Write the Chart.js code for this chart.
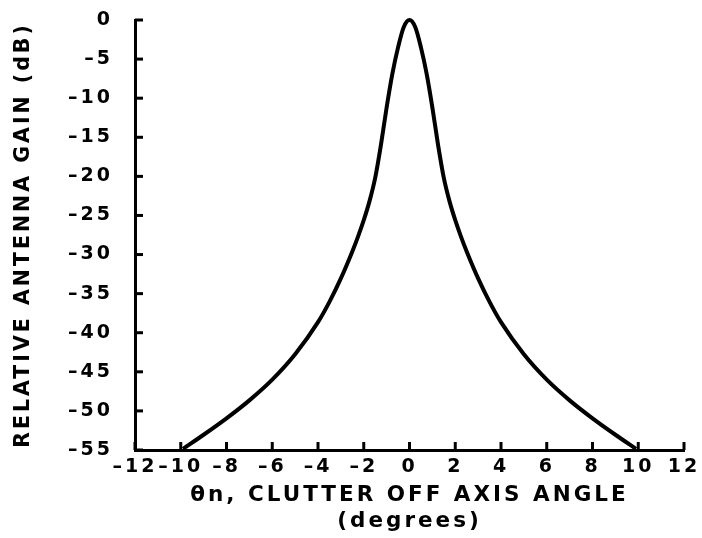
<!DOCTYPE html>
<html><head><meta charset="utf-8">
<script src="https://cdn.jsdelivr.net/npm/chart.js@4.4.1/dist/chart.umd.min.js"></script>
<style>html,body{margin:0;padding:0;background:#fff}canvas{display:block}</style>
</head><body>
<canvas id="c" width="702" height="538"></canvas>
<script>
// Off-axis angle (degrees)
const angleDeg = [-9.9,-9,-8,-7,-6,-5,-4,-3.5,-3,-2.5,-2.25,-2,-1.75,-1.5,-1.25,-1,-0.75,-0.5,-0.25,0,
                  0.25,0.5,0.75,1,1.25,1.5,1.75,2,2.25,2.5,3,3.5,4,5,6,7,8,9,9.9];
// Relative antenna gain (dB)
const gainDb = [-54.85,-53.05,-50.95,-48.65,-46.0,-42.75,-38.65,-36.05,-33.05,-29.6,-27.7,-25.6,-23.2,-20.2,-16,-11.2,-6.9,-3.5,-0.9,0,
                -0.9,-3.5,-6.9,-11.2,-16,-20.2,-23.2,-25.6,-27.7,-29.6,-33.05,-36.05,-38.65,-42.75,-46.0,-48.65,-50.95,-53.05,-54.85];
const xTickValues = [-12,-10,-8,-6,-4,-2,0,2,4,6,8,10,12];
const yTickValues = [0,-5,-10,-15,-20,-25,-30,-35,-40,-45,-50,-55];
const xTitle = ['\u03B8n, CLUTTER OFF AXIS ANGLE', '(degrees)'];
const yTitle = 'RELATIVE ANTENNA GAIN (dB)';

const SPACING = '3px';
const spacingPlugin = {
  id: 'spacing',
  beforeUpdate(c){ c.ctx.letterSpacing = SPACING; },
  beforeLayout(c){ c.ctx.letterSpacing = SPACING; },
  beforeDraw(c){ c.ctx.letterSpacing = SPACING; }
};
const inwardTicks = {
  id: 'inwardTicks',
  afterDatasetsDraw(chart){
    const {ctx, scales:{x, y}} = chart;
    ctx.save();
    ctx.strokeStyle = '#000';
    ctx.lineWidth = 3;
    x.ticks.forEach((t, i) => {
      const px = x.getPixelForTick(i);
      ctx.beginPath(); ctx.moveTo(px, x.top); ctx.lineTo(px, x.top - 8); ctx.stroke();
    });
    y.ticks.forEach((t, i) => {
      const py = y.getPixelForTick(i);
      ctx.beginPath(); ctx.moveTo(y.right, py); ctx.lineTo(y.right + 8, py); ctx.stroke();
    });
    ctx.restore();
  }
};

const font = (size) => ({family: '"DejaVu Sans", sans-serif', weight: 'bold', size: size, lineHeight: 1.2});
const fmt = (v) => String(v).replace('-', '\u2013');

new Chart(document.getElementById('c'), {
  type: 'line',
  data: {
    datasets: [{
      data: angleDeg.map((a, i) => ({x: a, y: gainDb[i]})),
      borderColor: '#000',
      borderWidth: 4,
      pointRadius: 0,
      fill: false,
      cubicInterpolationMode: 'monotone',
      clip: 4
    }]
  },
  options: {
    responsive: false,
    animation: false,
    devicePixelRatio: 1,
    layout: {padding: {left: 11, right: 18, top: 20, bottom: 4}},
    plugins: {legend: {display: false}, tooltip: {enabled: false}},
    scales: {
      x: {
        type: 'linear', min: -12, max: 12,
        afterBuildTicks: (s) => { s.ticks = xTickValues.map(v => ({value: v})); },
        afterFit: (s) => { s.height = 84; s.paddingLeft = 0; s.paddingRight = 0; },
        grid: {drawOnChartArea: false, drawTicks: false},
        border: {display: true, color: '#000', width: 3},
        ticks: {color: '#000', font: font(19), padding: 6, maxRotation: 0, autoSkip: false, callback: fmt},
        title: {display: true, text: xTitle, color: '#000', font: font(21.5), padding: {top: 6, bottom: 0}}
      },
      y: {
        type: 'linear', min: -55, max: 0,
        afterBuildTicks: (s) => { s.ticks = yTickValues.map(v => ({value: v})); },
        afterFit: (s) => { s.width = 124; s.paddingTop = 0; s.paddingBottom = 0; },
        grid: {drawOnChartArea: false, drawTicks: false},
        border: {display: true, color: '#000', width: 3},
        ticks: {color: '#000', font: font(19), padding: 22, autoSkip: false, callback: fmt},
        title: {display: true, text: yTitle, color: '#000', font: font(20.5), padding: {top: 0, bottom: 20}}
      }
    }
  },
  plugins: [spacingPlugin, inwardTicks]
});
</script>
</body></html>
